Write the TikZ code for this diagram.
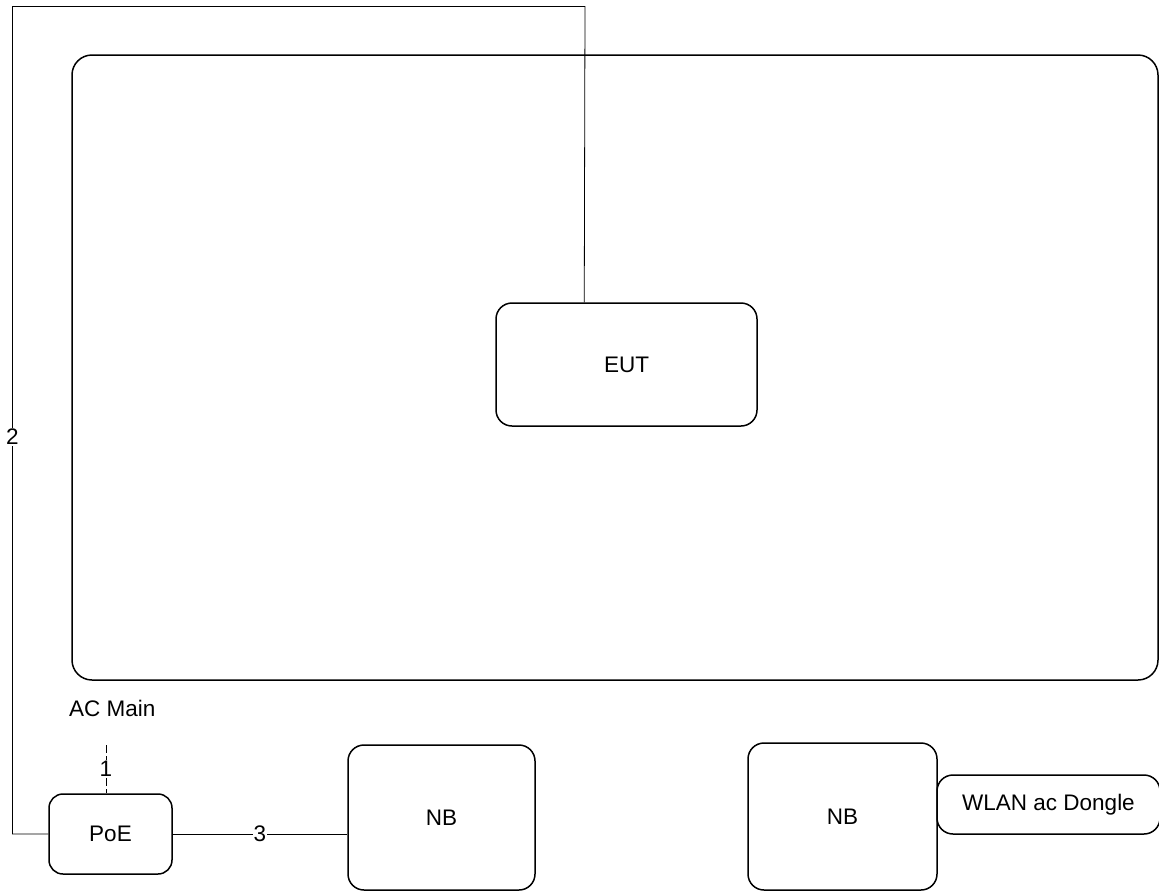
\documentclass[tikz,border=0pt]{standalone}
\usepackage{fontspec}
\setmainfont{Liberation Sans}
\usetikzlibrary{calc}
\begin{document}
\begin{tikzpicture}[x=1pt,y=-1pt,
  box/.style={draw, line width=1.5pt, inner sep=0pt, font=\fontsize{22.5}{26}\selectfont},
  wire/.style={line width=0.8pt},
  lbl/.style={font=\fontsize{22.5}{26}\selectfont, inner sep=1.5pt}]
\useasboundingbox (0,0) rectangle (1159,892);
\clip (0,0) rectangle (1159,892);
\node[box, rounded corners=20pt, minimum width=1086pt, minimum height=625pt] (room) at (615,367.5) {};
\node[box, rounded corners=16pt, minimum width=261pt, minimum height=123pt, fill=white] (eut) at (626.5,364.5) {EUT};
\node[box, rounded corners=14pt, minimum width=123pt, minimum height=80pt] (poe) at (110.5,834) {PoE};
\node[box, rounded corners=16pt, minimum width=187pt, minimum height=145pt] (nb1) at (441.5,817.5) {NB};
\node[box, rounded corners=16pt, minimum width=189pt, minimum height=147pt] (nb2) at (842.5,816.5) {NB};
\node[box, rounded corners=16pt, minimum width=223pt, minimum height=59pt] (wlan) at (1048.5,804.5) {WLAN ac Dongle};
\node[lbl, anchor=base west, inner sep=0pt] (acmain) at (69,716) {AC Main};
\coordinate (acin) at (106,745);
\coordinate (eutout) at ($(eut.north west)+(89,0)$);
\draw[wire] (eutout) -- (585,6.5) -- (12.5,6.5) -- (12.5,834) -- (poe.west);
\node[lbl, fill=white] (two) at (12.5,437) {2};
\draw[wire] (poe.east) -- (poe.east -| nb1.west) node[midway, lbl, fill=white, inner sep=0.3pt] {3};
\draw[wire, dash pattern=on 8pt off 3pt] (acin) -- (acin |- poe.north) node[midway, lbl, fill=white] {1};
\end{tikzpicture}
\end{document}
